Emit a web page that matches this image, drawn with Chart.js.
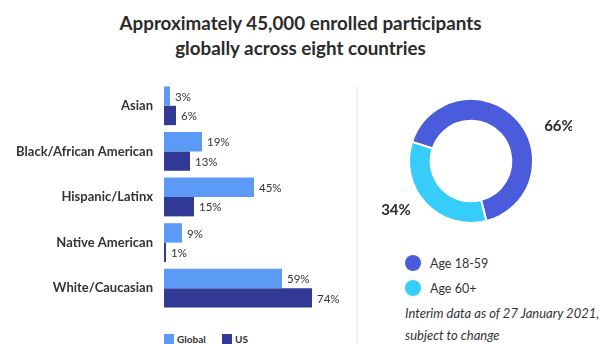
<!DOCTYPE html>
<html lang="en">
<head>
<meta charset="UTF-8">
<title>Enrolled participants</title>
<script src="https://cdn.jsdelivr.net/npm/chart.js@4.4.1/dist/chart.umd.min.js"></script>
<style>
  body { margin: 0; width: 601px; height: 344px; background: #fff; position: relative; overflow: hidden; font-family: Lato, "Open Sans", sans-serif; color: #333; }
  #titulo { position: absolute; left: 0; top: 10px; width: 601px; text-align: center; font-weight: 700; font-size: 18.8px; line-height: 25px; color: #2b2b2b; }
  #barWrap { position: absolute; left: 0; top: 80px; width: 355px; height: 234px; }
  #sep { position: absolute; left: 356px; top: 87px; width: 2px; height: 257px; background: #efefef; }
  #donutWrap { position: absolute; left: 370px; top: 80px; width: 202px; height: 162px; }
  .leg { position: absolute; font-size: 10px; font-weight: 700; color: #333; }
  .leg i { display: inline-block; width: 10px; height: 10px; vertical-align: -1px; margin-right: 3px; }
  .dleg { position: absolute; left: 405px; font-size: 12.5px; color: #333; }
  .dleg i { display: inline-block; width: 16px; height: 16px; border-radius: 50%; vertical-align: -3px; margin-right: 9px; }
  #nota { position: absolute; left: 405px; top: 302px; font-size: 13px; font-style: italic; line-height: 22px; color: #333; }
</style>
</head>
<body>
  <div id="titulo">Approximately 45,000 enrolled participants<br>globally across eight countries</div>

  <div id="barWrap"><canvas id="graficoBarras"></canvas></div>
  <div class="leg" style="left:164px; top:333px;"><i style="background:#5b9af5"></i>Global</div>
  <div class="leg" style="left:222px; top:333px;"><i style="background:#333a96"></i>US</div>

  <div id="sep"></div>

  <div id="donutWrap"><canvas id="graficoDona"></canvas></div>
  <div class="dleg" style="top:255px;"><i style="background:#4a5bdc"></i>Age 18-59</div>
  <div class="dleg" style="top:280px;"><i style="background:#37cdfb"></i>Age 60+</div>
  <div id="nota">Interim data as of 27 January 2021,<br>subject to change</div>

<script>
// Datos
const categorias = ['Asian', 'Black/African American', 'Hispanic/Latinx', 'Native American', 'White/Caucasian'];
const valoresGlobal = [3, 19, 45, 9, 59];
const valoresUS = [6, 13, 15, 1, 74];
const gruposEdad = ['Age 18-59', 'Age 60+'];
const valoresEdad = [66, 34];

// etiquetas de valor a la derecha de cada barra
const etiquetasBarras = {
  id: 'etiquetasBarras',
  afterDatasetsDraw(chart) {
    const ctx = chart.ctx;
    ctx.save();
    ctx.font = '11.5px Lato, sans-serif';
    ctx.fillStyle = '#333';
    ctx.textBaseline = 'middle';
    chart.data.datasets.forEach((ds, i) => {
      chart.getDatasetMeta(i).data.forEach((bar, j) => {
        ctx.fillText(ds.data[j] + '%', bar.x + 5, bar.y + 1);
      });
    });
    ctx.restore();
  }
};

new Chart(document.getElementById('graficoBarras'), {
  type: 'bar',
  data: {
    labels: categorias,
    datasets: [
      { label: 'Global', data: valoresGlobal, backgroundColor: '#5b9af5' },
      { label: 'US', data: valoresUS, backgroundColor: '#333a96' }
    ]
  },
  options: {
    indexAxis: 'y',
    responsive: true,
    maintainAspectRatio: false,
    animation: false,
    layout: { padding: { top: 3, bottom: 3, right: 1 } },
    categoryPercentage: 0.85,
    barPercentage: 1.0,
    plugins: { legend: { display: false }, tooltip: { enabled: false } },
    scales: {
      x: { display: false, min: 0, max: 95 },
      y: {
        grid: { display: false, drawTicks: false },
        border: { display: false },
        afterFit: (s) => { s.width = 164; s.paddingTop = 0; s.paddingBottom = 0; },
        ticks: { color: '#333', padding: 11, font: { family: 'Lato, sans-serif', size: 13, weight: 'bold' } }
      }
    }
  },
  plugins: [etiquetasBarras]
});

// porcentajes fuera de la dona
const offsetsDona = [[88, -35], [-75, 49]];
const etiquetasDona = {
  id: 'etiquetasDona',
  afterDatasetsDraw(chart) {
    const ctx = chart.ctx;
    const arc = chart.getDatasetMeta(0).data[0];
    ctx.save();
    ctx.font = 'bold 15px Lato, sans-serif';
    ctx.fillStyle = '#2b2b2b';
    ctx.textAlign = 'center';
    ctx.textBaseline = 'middle';
    chart.data.datasets[0].data.forEach((v, i) => {
      ctx.fillText(v + '%', arc.x + offsetsDona[i][0], arc.y + offsetsDona[i][1]);
    });
    ctx.restore();
  }
};

new Chart(document.getElementById('graficoDona'), {
  type: 'doughnut',
  data: {
    labels: gruposEdad,
    datasets: [{
      data: valoresEdad,
      backgroundColor: ['#4a5bdc', '#37cdfb'],
      borderColor: '#fff',
      borderWidth: 2
    }]
  },
  options: {
    responsive: true,
    maintainAspectRatio: false,
    animation: false,
    rotation: -72,
    cutout: '65%',
    layout: { padding: { left: 38, right: 38, top: 18, bottom: 18 } },
    plugins: { legend: { display: false }, tooltip: { enabled: false } }
  },
  plugins: [etiquetasDona]
});
</script>
</body>
</html>
